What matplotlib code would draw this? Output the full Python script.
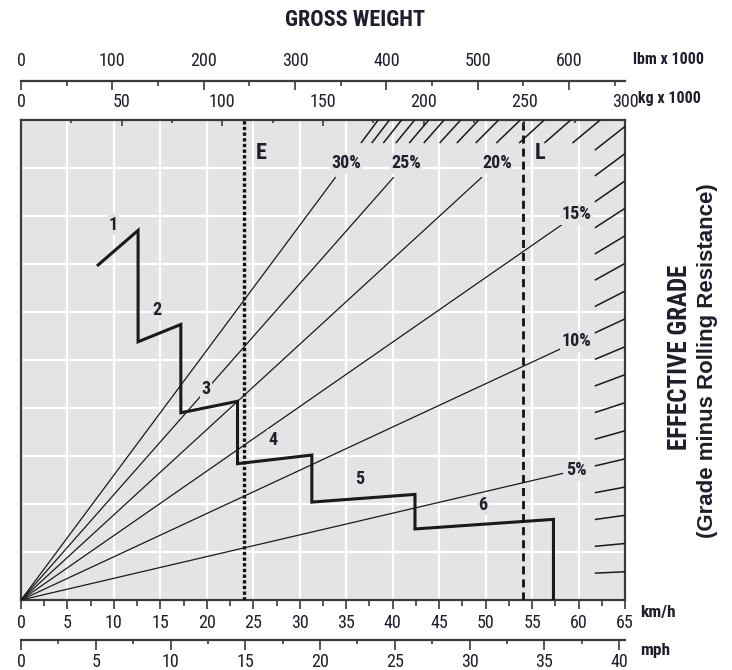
import numpy as np
import matplotlib
matplotlib.use("Agg")
import matplotlib.pyplot as plt
from matplotlib.ticker import MultipleLocator, NullFormatter

# retarding curve, gears 1-6 (speed km/h, retarding force kN)
gear_speed = [8.3, 12.6, 12.6, 17.2, 17.2, 23.3, 23.3, 31.3, 31.3, 42.4, 42.4, 57.3, 57.3]
gear_force = [349, 385, 269, 287, 195, 207, 142, 151, 102, 110, 74, 84, 0]

gear_names = ["1", "2", "3", "4", "5", "6"]
gear_label_speed = [9.9, 14.6, 19.9, 27.1, 36.5, 49.7]
gear_label_force = [391, 302, 220, 167, 126, 99]

# brake cooling limits
limit_names = ["E", "L"]
limit_speed = [24.0, 54.0]

grades_labelled = [5, 10, 15, 20, 25, 30]
grades_all = list(range(1, 31))

speed_max = 65      # km/h
weight_max = 300    # kg x 1000
force_max = 500     # kN

KMH_PER_MPH = 1.609344
LB_PER_KG = 2.20462

BG = "#e4e4e6"
INK = "#1e1e2c"
LINE = "#1a1a1a"
FRAME = "#3a3a3a"

NARROW = ["Roboto Condensed", "Roboto", "DejaVu Sans"]
plt.rcParams["font.family"] = NARROW

W, H = 732, 670
TICK_SIZE = 13


def fx(px):
    return px / W


def fy(py):
    return 1 - py / H


def grade_slope(g):
    # kN of grade force per tonne of gross weight
    return 9.81 * np.sin(np.arctan(g / 100))


fig = plt.figure(figsize=(W / 100, H / 100), dpi=100)

ax = fig.add_axes([fx(21), fy(600), (625 - 21) / W, 480 / H])
ax.set_facecolor(BG)
ax.set_xlim(0, speed_max)
ax.set_ylim(0, force_max)
ax.set_xticks(np.arange(0, speed_max + 1, 5))
ax.xaxis.set_minor_locator(MultipleLocator(2.5))
ax.set_yticks(np.arange(0, force_max + 1, 50))
ax.grid(True, which="major", color="white", lw=1.6)
ax.set_axisbelow(True)
ax.tick_params(axis="y", left=False, labelleft=False)
ax.tick_params(axis="x", which="major", direction="out", length=6.5, width=1.2,
               color=FRAME, pad=3.5, labelsize=TICK_SIZE, labelcolor=INK)
ax.tick_params(axis="x", which="minor", direction="out", length=4.3, width=1.2, color=FRAME)
for sp in ax.spines.values():
    sp.set_color(FRAME)
    sp.set_linewidth(1.6)

# weight scale shares the force axis
axw = ax.twiny()
axw.set_xlim(0, weight_max)
axw.xaxis.set_major_locator(MultipleLocator(50))
axw.xaxis.set_minor_locator(MultipleLocator(25))
axw.xaxis.set_major_formatter(NullFormatter())
axw.tick_params(axis="x", which="major", direction="in", length=4.5, width=1.2, color=FRAME)
axw.tick_params(axis="x", which="minor", direction="in", length=2.2, width=1.2, color=FRAME)
for sp in axw.spines.values():
    sp.set_visible(False)

# grade lines from the origin, cut where the label sits
for g in grades_labelled:
    k = grade_slope(g)
    if g <= 15:
        w_end, w_lab = 269, 276
        f_lab = k * w_lab
    else:
        f_lab = 455
        w_end = 440 / k
        w_lab = f_lab / k
    axw.plot([0, w_end], [0, k * w_end], color=LINE, lw=0.9, zorder=2)
    axw.text(w_lab, f_lab, f"{g}%", ha="center", va="center", fontsize=13,
             fontweight="bold", color=INK, zorder=5,
             bbox=dict(fc=BG, ec="none", pad=1.0))

# 1% stubs along the top and right edges
for g in grades_all:
    k = grade_slope(g)
    w0 = min(285, 476 / k)
    w1 = min(weight_max, force_max / k)
    axw.plot([w0, w1], [k * w0, k * w1], color=LINE, lw=1.1, zorder=2,
             solid_capstyle="butt")

# retarding curve
ax.plot(gear_speed, gear_force, color=LINE, lw=2.2, solid_joinstyle="miter", zorder=3)
for name, s, f in zip(gear_names, gear_label_speed, gear_label_force):
    axw.text(s, f, name, transform=ax.transData, ha="center", va="center",
             fontsize=13, fontweight="bold", color=INK, zorder=5,
             bbox=dict(fc=BG, ec="none", pad=1.0))

# brake cooling limit lines
ax.axvline(limit_speed[0], color="#111111", lw=2.4, ls=(0, (1, 0.7)), zorder=3)
ax.axvline(limit_speed[1], color="#111111", lw=2.0, ls=(0, (2.9, 1.8)), zorder=3)
for name, s in zip(limit_names, limit_speed):
    ax.text(s + 1.9, 466, name, ha="center", va="center", fontsize=16,
            fontweight="bold", color=INK, zorder=5)

# mph scale under the km/h scale
mph = ax.secondary_xaxis(-40 / 480, functions=(lambda v: v / KMH_PER_MPH,
                                              lambda v: v * KMH_PER_MPH))
mph.set_xticks(np.arange(0, 41, 5))
mph.xaxis.set_minor_locator(MultipleLocator(2.5))
mph.tick_params(axis="x", which="major", direction="out", length=7.2, width=1.2,
                color=FRAME, pad=2.5, labelsize=TICK_SIZE, labelcolor=INK)
mph.tick_params(axis="x", which="minor", direction="out", length=2.9, width=1.2, color=FRAME)
mph.spines["bottom"].set_color(FRAME)
mph.spines["bottom"].set_linewidth(1.6)

# gross weight scale: lbm ticks on the line, kg labels beneath it
top_pos = (600 - 81) / 480
lbm = axw.secondary_xaxis(top_pos, functions=(lambda v: v * LB_PER_KG,
                                             lambda v: v / LB_PER_KG))
lbm.set_xticks(np.arange(0, 601, 100))
lbm.xaxis.set_minor_locator(MultipleLocator(50))
lbm.tick_params(axis="x", which="major", direction="in", length=6.5, width=1.2,
                color=FRAME, pad=8, labelsize=TICK_SIZE, labelcolor=INK)
lbm.tick_params(axis="x", which="minor", direction="in", length=3.6, width=1.2, color=FRAME)
lbm.spines["top"].set_color(FRAME)
lbm.spines["top"].set_linewidth(1.6)

kg = axw.secondary_xaxis(top_pos)
kg.set_alignment("bottom")
kg.spines["bottom"].set_visible(False)
kg.set_xticks(np.arange(0, weight_max + 1, 50))
kg.tick_params(axis="x", length=0, pad=8.5, labelsize=TICK_SIZE, labelcolor=INK)

fig.text(fx(355), fy(20), "GROSS WEIGHT", ha="center", va="center",
         fontsize=16, fontweight="bold", color=INK)
fig.text(fx(633), fy(60), "lbm x 1000", ha="left", va="center",
         fontsize=11.5, fontweight="bold", color=INK)
fig.text(fx(638), fy(99), "kg x 1000", ha="left", va="center",
         fontsize=11.5, fontweight="bold", color=INK)
fig.text(fx(640), fy(613), "km/h", ha="left", va="center",
         fontsize=12.5, fontweight="bold", color=INK)
fig.text(fx(640), fy(651), "mph", ha="left", va="center",
         fontsize=12.5, fontweight="bold", color=INK)
fig.text(fx(680), fy(357), "EFFECTIVE GRADE", rotation=90, ha="center", va="center",
         fontsize=18, fontweight="bold", color=INK)
fig.text(fx(708), fy(361), "(Grade minus Rolling Resistance)", rotation=90,
         ha="center", va="center", fontsize=16, fontweight="bold", color=INK,
         family=["Liberation Sans", "DejaVu Sans"])

fig.savefig("out.png", dpi=100, facecolor="white")
